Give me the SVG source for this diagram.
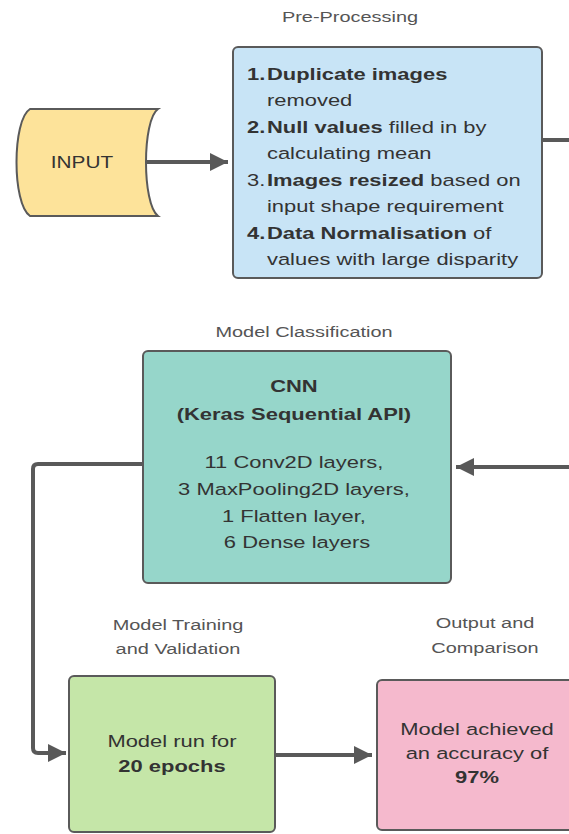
<svg xmlns="http://www.w3.org/2000/svg" width="569" height="834" viewBox="0 0 569 834">
<defs>
<marker id="ah" viewBox="0 0 10 10" refX="10" refY="5" markerWidth="6.5" markerHeight="4.5" markerUnits="strokeWidth" orient="auto">
<path d="M0,0 L10,5 L0,10 Z" fill="#595959"/>
</marker>
<style>
.box{stroke:#5a5a5a;stroke-width:2}
.t{font-family:"Liberation Sans",Arial,sans-serif;font-size:16.5px;fill:#333}
.lb{font-family:"Liberation Sans",Arial,sans-serif;font-size:15px;fill:#555}
.b{font-weight:bold}
.c{text-anchor:middle}
.cn{fill:none;stroke:#595959;stroke-width:4;stroke-linejoin:round}
</style>
</defs>
<rect width="569" height="834" fill="#ffffff"/>

<g id="connectors">
<path class="cn" d="M145,162 H228" marker-end="url(#ah)"/>
<path class="cn" d="M542,140 H585 V467 H456" marker-end="url(#ah)"/>
<path class="cn" d="M143,464 H38 Q33,464 33,469 V748 Q33,753 38,753 H66" marker-end="url(#ah)"/>
<path class="cn" d="M275,755 H372" marker-end="url(#ah)"/>
</g>

<g id="input">
<path class="box" d="M30,109 H158 C142,120 142,204 158,216 H30 C12,204 12,120 30,109 Z" fill="#fde39a"/>
<text class="t c" transform="translate(82,168) scale(1.3,1)" x="0" y="0" style="font-size:16px">INPUT</text>
</g>

<g id="preprocessing">
<text class="lb c" transform="translate(350,22) scale(1.33,1)" x="0" y="0">Pre-Processing</text>
<rect class="box" x="233" y="47" width="309" height="231" rx="5" fill="#c8e4f6"/>
<text class="t" transform="translate(247,0) scale(1.33,1)">
<tspan class="b" x="0" y="80">1.</tspan><tspan class="b" x="15" y="80">Duplicate images</tspan>
<tspan x="15" y="106">removed</tspan>
<tspan class="b" x="0" y="133">2.</tspan><tspan x="15" y="133"><tspan class="b">Null values</tspan> filled in by</tspan>
<tspan x="15" y="159">calculating mean</tspan>
<tspan x="0" y="186">3.</tspan><tspan x="15" y="186"><tspan class="b">Images resized</tspan> based on</tspan>
<tspan x="15" y="212">input shape requirement</tspan>
<tspan class="b" x="0" y="239">4.</tspan><tspan x="15" y="239"><tspan class="b">Data Normalisation</tspan> of</tspan>
<tspan x="15" y="265">values with large disparity</tspan>
</text>
</g>

<g id="cnn">
<text class="lb c" transform="translate(304,337) scale(1.33,1)" x="0" y="0">Model Classification</text>
<rect class="box" x="143" y="351" width="308" height="232" rx="5" fill="#96d6ca"/>
<text class="t c" transform="translate(297,0) scale(1.33,1)">
<tspan class="b" x="0" y="392">CNN</tspan>
<tspan class="b" x="0" y="420">(Keras Sequential API)</tspan>
<tspan x="0" y="468">11 Conv2D layers,</tspan>
<tspan x="0" y="495">3 MaxPooling2D layers,</tspan>
<tspan x="0" y="522">1 Flatten layer,</tspan>
<tspan x="0" y="548">6 Dense layers</tspan>
</text>
</g>

<g id="training">
<text class="lb c" transform="translate(178,0) scale(1.33,1)"><tspan x="0" y="630">Model Training</tspan><tspan x="0" y="654">and Validation</tspan></text>
<rect class="box" x="69" y="676" width="206" height="156" rx="5" fill="#c5e6a8"/>
<text class="t c" transform="translate(172,0) scale(1.33,1)"><tspan x="0" y="747">Model run for</tspan><tspan class="b" x="0" y="772">20 epochs</tspan></text>
</g>

<g id="output">
<text class="lb c" transform="translate(485,0) scale(1.33,1)"><tspan x="0" y="628">Output and</tspan><tspan x="0" y="653">Comparison</tspan></text>
<rect class="box" x="377" y="680" width="200" height="150" rx="5" fill="#f5b9cd"/>
<text class="t c" transform="translate(477,0) scale(1.33,1)"><tspan x="0" y="735">Model achieved</tspan><tspan x="0" y="759">an accuracy of</tspan><tspan class="b" x="0" y="783">97%</tspan></text>
</g>
</svg>
